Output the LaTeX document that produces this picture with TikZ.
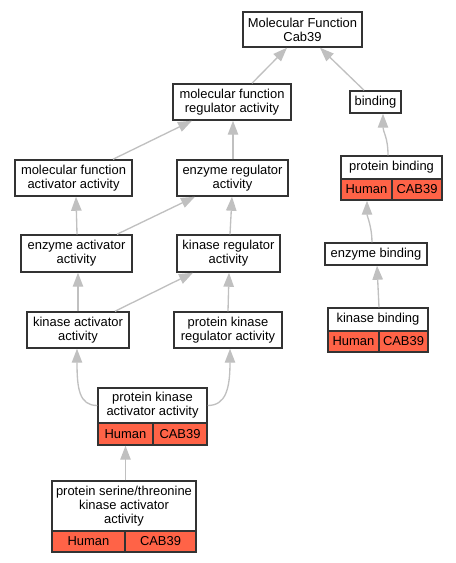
\documentclass[tikz,border=0pt]{standalone}
\usepackage{fontspec}
\setmainfont{Liberation Sans}
\usetikzlibrary{arrows.meta,calc}
\definecolor{edgegray}{HTML}{C0C0C0}
\definecolor{cellred}{HTML}{FF6347}
\definecolor{boxborder}{HTML}{333333}
\begin{document}
\begin{tikzpicture}[x=0.75pt,y=-0.75pt,
  sz/.style 2 args={minimum width=#1*0.75pt,minimum height=#2*0.75pt},
  box/.style={draw=boxborder,line width=1.1pt,fill=white,align=center,inner sep=0pt,
              font=\fontsize{9.7}{10.4}\selectfont},
  cell/.style={box,fill=cellred},
  edge/.style={draw=edgegray,line width=1pt,-{Triangle[length=10.5pt,width=7.8pt]}}]
\useasboundingbox (0,0) rectangle (456,563);
\node[box,sz={119}{35}] (mf) at (302.5,29.5) {Molecular Function\\Cab39};
\node[box,sz={51}{22}] (bind) at (375.5,102) {binding};
\node[box,sz={118}{36}] (mfreg) at (232,102) {molecular function\\regulator activity};
\node[box,sz={117}{36}] (mfact) at (73.5,178) {molecular function\\activator activity};
\node[box,sz={111}{36}] (enzreg) at (232.5,178) {enzyme regulator\\activity};
\node[box,sz={111}{37}] (enzact) at (76.5,253.5) {enzyme activator\\activity};
\node[box,sz={103}{37}] (kinreg) at (228.5,253.5) {kinase regulator\\activity};
\node[box,sz={102}{36}] (kinact) at (78,330) {kinase activator\\activity};
\node[box,sz={108}{36}] (pkreg) at (228,330) {protein kinase\\regulator activity};
\node[box,sz={109}{35}] (pkact) at (152.5,405.5) {protein kinase\\activator activity};
\node[cell,sz={55}{22}] (pkacth) at (125.5,434) {Human};
\node[cell,sz={54}{22}] (pkactc) at (180,434) {CAB39};
\node[box,sz={144}{50}] (pst) at (124,506) {protein serine/threonine\\kinase activator\\activity};
\node[cell,sz={73}{21}] (psth) at (88.5,541.5) {Human};
\node[cell,sz={71}{21}] (pstc) at (160.5,541.5) {CAB39};
\node[box,sz={101}{23}] (pbind) at (391.5,167.5) {protein binding};
\node[cell,sz={51}{21}] (pbindh) at (366.5,189.5) {Human};
\node[cell,sz={50}{21}] (pbindc) at (417,189.5) {CAB39};
\node[box,sz={102}{22}] (enzbind) at (376,254) {enzyme binding};
\node[box,sz={100}{23}] (kinbind) at (378,319.5) {kinase binding};
\node[cell,sz={51}{21}] (kinbindh) at (353.5,341.5) {Human};
\node[cell,sz={49}{21}] (kinbindc) at (403.5,341.5) {CAB39};

\draw[edge] ($(mfreg.north)+(20,0)$) -- ($(mf.south)+(-15.5,0)$);
\draw[edge] ($(bind.north)+(-11.5,0)$) -- ($(mf.south)+(17.5,0)$);
\draw[edge] ($(pbind.north)+(-3.5,0)$) .. controls ($(pbind.north)+(-3.5,-18)$) and ($(bind.south)+(7.5,18)$) .. ($(bind.south)+(7.5,0)$);
\draw[edge] ($(mfact.north)+(39.5,0)$) -- ($(mfreg.south)+(-40,0)$);
\draw[edge] ($(enzreg.north)+(0.5,0)$) -- ($(mfreg.south)+(1,0)$);
\draw[edge] ($(enzact.north)+(0.5,0)$) -- ($(mfact.south)+(2.5,0)$);
\draw[edge] ($(enzact.north)+(40.5,0)$) -- ($(enzreg.south)+(-37.5,0)$);
\draw[edge] ($(kinreg.north)+(1.5,0)$) -- ($(enzreg.south)+(-0.5,0)$);
\draw[edge] (kinact.north) -- ($(enzact.south)+(1.5,0)$);
\draw[edge] ($(kinact.north)+(37,0)$) -- ($(kinreg.south)+(-35.5,0)$);
\draw[edge] (pkreg.north) -- ($(kinreg.south)+(0.5,0)$);
\draw[edge] (pkact.west) .. controls ($(pkact.west)+(-18,0)$) and ($(kinact.south)+(-1,40)$) .. ($(kinact.south)+(-1,0)$);
\draw[edge] (pkact.east) .. controls ($(pkact.east)+(18,0)$) and ($(pkreg.south)+(2,40)$) .. ($(pkreg.south)+(2,0)$);
\draw[edge] ($(pst.north)+(1.5,0)$) -- (pkacth.south);
\draw[edge] ($(enzbind.north)+(-4,0)$) .. controls ($(enzbind.north)+(-4,-15)$) and ($(pbindh.south)+(0.5,15)$) .. ($(pbindh.south)+(0.5,0)$);
\draw[edge] ($(kinbind.north)+(1,0)$) -- ($(enzbind.south)+(1,0)$);
\end{tikzpicture}
\end{document}
